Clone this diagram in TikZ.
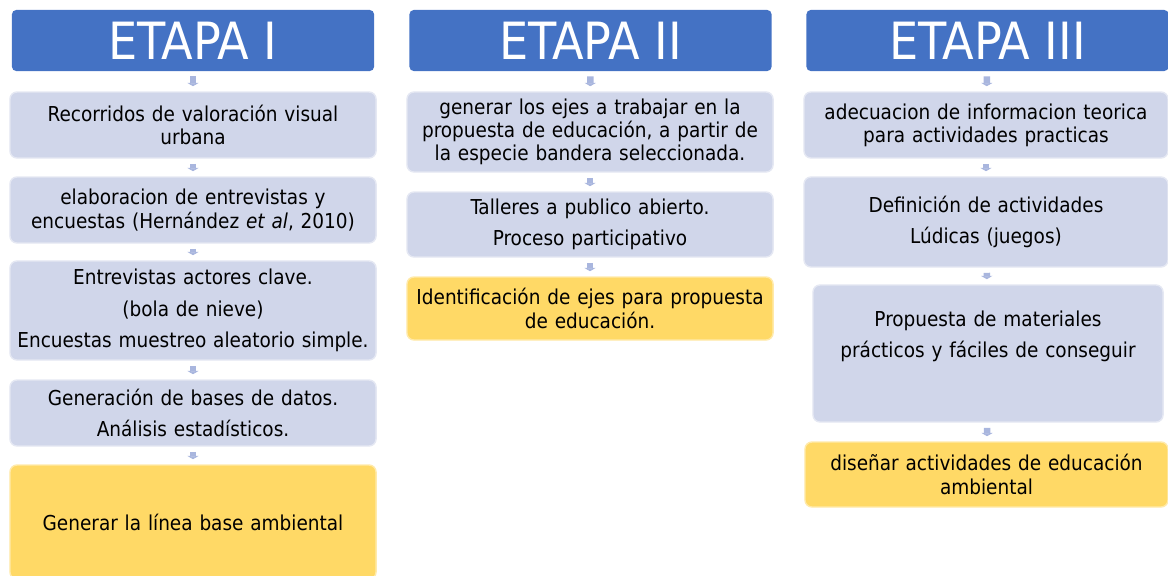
\documentclass[tikz,border=0pt]{standalone}
\usepackage{fontspec}
\setmainfont{DejaVu Sans Condensed}
\usetikzlibrary{positioning,arrows.meta}
\definecolor{azuletapa}{HTML}{4472C4}
\definecolor{lavanda}{HTML}{D0D6EA}
\definecolor{amarillo}{HTML}{FFD966}
\definecolor{flechagris}{HTML}{A9B6DE}
\tikzset{
	x=0.025cm, y=-0.025cm,
	etapa/.style={fill=azuletapa, rounded corners=3pt, text=white, minimum width=9.05cm, minimum height=1.525cm, inner sep=0pt, font=\fontsize{36.5}{42}\selectfont},
	paso/.style={fill=lavanda, draw=lavanda!55!white, line width=1pt, rounded corners=5pt, minimum width=9.15cm, text width=9.05cm, align=center, inner sep=0pt, font=\fontsize{14.6}{16.5}\selectfont},
	meta/.style={paso, fill=amarillo, draw=amarillo!55!white},
	flecha/.style={-{Triangle[length=2.4pt,width=8pt]}, line width=4.6pt, draw=flechagris, shorten <=3.6pt, shorten >=3.6pt},
}
\begin{document}
\begin{tikzpicture}
	\useasboundingbox (0,0) rectangle (1168,575);
	% etapas
	\node[etapa] (e1) at (193,40.5) {ETAPA I};
	\node[etapa] (e2) at (590.5,40.5) {ETAPA II};
	\node[etapa] (e3) at (987.5,40.5) {ETAPA III};

	% etapa I
	\node[paso, minimum height=1.65cm] (a1) at (193,125) {Recorridos de valoración visual\\urbana};
	\node[paso, minimum height=1.65cm] (a2) at (193,210) {elaboracion de entrevistas y\\encuestas (Hernández \textit{et al}, 2010)};
	\node[paso, minimum height=2.475cm] (a3) at (193,310.5) {Entrevistas actores clave.\\[6pt](bola de nieve)\\[6pt]Encuestas muestreo aleatorio simple.};
	\node[paso, minimum height=1.65cm] (a4) at (193,413) {Generación de bases de datos.\\[6pt]Análisis estadísticos.};
	\node[meta, minimum height=2.85cm] (a5) at (193,522) {Generar la línea base ambiental};

	% etapa II
	\node[paso, minimum height=2cm] (b1) at (590,132) {generar los ejes a trabajar en la\\propuesta de educación, a partir de\\la especie bandera seleccionada.};
	\node[paso, minimum height=1.625cm] (b2) at (590,224.5) {Talleres a publico abierto.\\[6pt]Proceso participativo};
	\node[meta, minimum height=1.575cm] (b3) at (590,308.5) {Identificación de ejes para propuesta\\de educación.};

	% etapa III
	\node[paso, minimum width=9.1cm, minimum height=1.65cm] (c1) at (986,125) {adecuacion de informacion teorica\\para actividades practicas};
	\node[paso, minimum width=9.1cm, minimum height=2.25cm] (c2) at (986,222) {Definición de actividades\\[6pt]Lúdicas (juegos)};
	\node[paso, minimum width=8.75cm, text width=8.6cm, minimum height=3.425cm] (c3) at (988,353.5) {Propuesta de materiales\\[6pt]prácticos y fáciles de conseguir\\[6pt]\strut};
	\node[meta, minimum width=9.075cm, minimum height=1.625cm] (c4) at (986.5,474.5) {diseñar actividades de educación\\ambiental};

	\draw[flecha] (e1) -- (a1);
	\draw[flecha] (a1) -- (a2);
	\draw[flecha] (a2) -- (a3);
	\draw[flecha] (a3) -- (a4);
	\draw[flecha] (a4) -- (a5);
	\draw[flecha] (e2) -- (b1);
	\draw[flecha] (b1) -- (b2);
	\draw[flecha] (b2) -- (b3);
	\draw[flecha] (e3) -- (c1);
	\draw[flecha] (c1) -- (c2);
	\draw[flecha] (c2) -- (c3);
	\draw[flecha] (c3) -- (c4);
\end{tikzpicture}
\end{document}
